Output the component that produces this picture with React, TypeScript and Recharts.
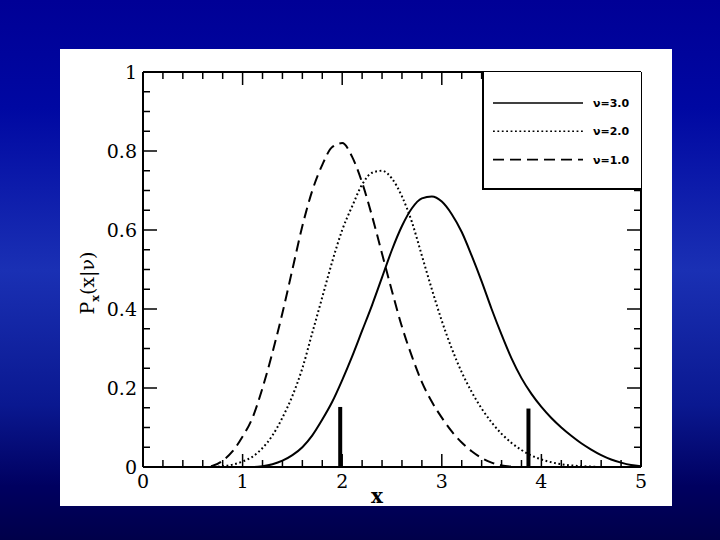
import React from 'react';
import { LineChart, Line, XAxis, YAxis, Legend, ReferenceLine } from 'recharts';

// sample positions along x
const xValues = [
  0, 0.1, 0.2, 0.3, 0.4, 0.5, 0.6, 0.7, 0.8, 0.9,
  1, 1.1, 1.2, 1.3, 1.4, 1.5, 1.6, 1.7, 1.8, 1.9,
  2, 2.1, 2.2, 2.3, 2.4, 2.5, 2.6, 2.7, 2.8, 2.9,
  3, 3.1, 3.2, 3.3, 3.4, 3.5, 3.6, 3.7, 3.8, 3.9,
  4, 4.1, 4.2, 4.3, 4.4, 4.5, 4.6, 4.7, 4.8, 4.9, 5,
];

// nu = 3.0 (solid)
const nu3 = [
  0, 0, 0, 0, 0, 0, 0, 0, 0, 0,
  0, 0, 0.002, 0.007, 0.016, 0.03, 0.05, 0.08, 0.12, 0.165,
  0.22, 0.28, 0.345, 0.41, 0.48, 0.55, 0.61, 0.655, 0.68, 0.685,
  0.672, 0.64, 0.595, 0.535, 0.47, 0.4, 0.335, 0.275, 0.225, 0.185,
  0.152, 0.124, 0.1, 0.079, 0.06, 0.044, 0.03, 0.019, 0.011, 0.005, 0.002,
];

// nu = 2.0 (dotted)
const nu2 = [
  0, 0, 0, 0, 0, 0, 0, 0, 0.002, 0.006,
  0.014, 0.026, 0.048, 0.08, 0.125, 0.18, 0.25, 0.34, 0.43, 0.52,
  0.6, 0.66, 0.715, 0.745, 0.75, 0.73, 0.685, 0.62, 0.535, 0.45,
  0.37, 0.3, 0.24, 0.19, 0.148, 0.113, 0.084, 0.061, 0.043, 0.029,
  0.019, 0.012, 0.007, 0.004, 0.002, 0.001, 0, 0, 0, 0, 0,
];

// nu = 1.0 (dashed)
const nu1 = [
  0, 0, 0, 0, 0, 0, 0, 0.003, 0.016, 0.04,
  0.077, 0.125, 0.2, 0.29, 0.39, 0.5, 0.61, 0.7, 0.765, 0.81,
  0.82, 0.785, 0.72, 0.635, 0.54, 0.445, 0.355, 0.28, 0.215, 0.165,
  0.125, 0.09, 0.062, 0.04, 0.023, 0.011, 0.004, 0.001, 0, 0,
  0, 0, 0, 0, 0, 0, 0, 0, 0, 0, 0,
];

const seriesNames = ['ν=3.0', 'ν=2.0', 'ν=1.0'];

// the two thick vertical markers
const markerX = [1.98, 3.87];
const markerTop = [0.152, 0.148];

const xTicks = [
  0, 0.2, 0.4, 0.6, 0.8, 1, 1.2, 1.4, 1.6, 1.8, 2, 2.2, 2.4,
  2.6, 2.8, 3, 3.2, 3.4, 3.6, 3.8, 4, 4.2, 4.4, 4.6, 4.8, 5,
];
const yTicks = [
  0, 0.05, 0.1, 0.15, 0.2, 0.25, 0.3, 0.35, 0.4, 0.45, 0.5,
  0.55, 0.6, 0.65, 0.7, 0.75, 0.8, 0.85, 0.9, 0.95, 1,
];
const yTickLabels = ['0', '0.2', '0.4', '0.6', '0.8', '1'];

const data = xValues.map((x, i) => ({ x, nu3: nu3[i], nu2: nu2[i], nu1: nu1[i] }));

const dashes = [undefined, '1.8 2.6', '11 6'];
const tickFont = 'DejaVu Serif, serif';

const isMajorX = (v: number) => Math.abs(v - Math.round(v)) < 1e-6;
const isMajorY = (v: number) => Math.abs(v * 5 - Math.round(v * 5)) < 1e-6;

const BottomTick = (props: any) => {
  const { x, y, payload } = props;
  const major = isMajorX(payload.value);
  return (
    <g>
      <line x1={x} x2={x} y1={y} y2={y - (major ? 13 : 7)} stroke="#000" strokeWidth={1.5} />
      {major && (
        <text x={x} y={y + 21} textAnchor="middle" fontFamily={tickFont} fontSize={19} fill="#000">
          {payload.value}
        </text>
      )}
    </g>
  );
};

const TopTick = (props: any) => {
  const { x, y, payload } = props;
  const major = isMajorX(payload.value);
  return <line x1={x} x2={x} y1={y} y2={y + (major ? 13 : 7)} stroke="#000" strokeWidth={1.5} />;
};

const LeftTick = (props: any) => {
  const { x, y, payload } = props;
  const major = isMajorY(payload.value);
  return (
    <g>
      <line x1={x} x2={x + (major ? 14 : 7)} y1={y} y2={y} stroke="#000" strokeWidth={1.5} />
      {major && (
        <text x={x - 6} y={y} dy="0.36em" textAnchor="end" fontFamily={tickFont} fontSize={19} fill="#000">
          {yTickLabels[Math.round(payload.value * 5)]}
        </text>
      )}
    </g>
  );
};

const RightTick = (props: any) => {
  const { x, y, payload } = props;
  const major = isMajorY(payload.value);
  return <line x1={x} x2={x - (major ? 14 : 7)} y1={y} y2={y} stroke="#000" strokeWidth={1.5} />;
};

const YTitle = () => (
  <text
    x={94}
    y={283}
    transform="rotate(-90 94 283)"
    textAnchor="middle"
    fontFamily={tickFont}
    fontSize={19}
    fill="#000"
  >
    P
    <tspan dy={5} fontSize={11} fontWeight="bold">x</tspan>
    <tspan dy={-5}>(x|ν)</tspan>
  </text>
);

const XTitle = () => (
  <text x={377} y={503} textAnchor="middle" fontFamily={tickFont} fontWeight="bold" fontSize={20} fill="#000">
    x
  </text>
);

const LegendBox = () => (
  <div
    style={{
      width: 159,
      height: 118,
      boxSizing: 'border-box',
      borderLeft: '2px solid #000',
      borderBottom: '2px solid #000',
      background: '#fff',
    }}
  >
    <svg width={157} height={116}>
      {seriesNames.map((name, i) => (
        <g key={name}>
          <line
            x1={9}
            x2={99}
            y1={31 + i * 28.3}
            y2={31 + i * 28.3}
            stroke="#000"
            strokeWidth={1.6}
            strokeDasharray={dashes[i]}
          />
          <text
            x={109}
            y={31 + i * 28.3}
            dy="0.36em"
            fontFamily="DejaVu Sans, sans-serif"
            fontWeight="bold"
            fontSize={11}
            fill="#000"
          >
            {name}
          </text>
        </g>
      ))}
    </svg>
  </div>
);

export default function App() {
  return (
    <div
      style={{
        position: 'absolute',
        left: 0,
        top: 0,
        width: 720,
        height: 540,
        background:
          'linear-gradient(180deg, #000096 0%, #0008a2 20%, #1a30b4 50%, #0a1890 75%, #000060 90%, #00004a 100%)',
      }}
    >
      <div style={{ position: 'absolute', left: 60, top: 49, width: 612, height: 457, background: '#fff' }} />
      <div style={{ position: 'absolute', left: 0, top: 0 }}>
        <LineChart width={720} height={540} data={data} margin={{ top: 71, right: 78, left: 83, bottom: 33 }}>
          <XAxis
            xAxisId="b"
            dataKey="x"
            type="number"
            domain={[0, 5]}
            ticks={xTicks}
            interval={0}
            height={40}
            tickSize={0}
            tickMargin={0}
            tickLine={false}
            tick={<BottomTick />}
            axisLine={{ stroke: '#000', strokeWidth: 2 }}
            allowDataOverflow
            label={<XTitle />}
          />
          <XAxis
            xAxisId="t"
            orientation="top"
            dataKey="x"
            type="number"
            domain={[0, 5]}
            ticks={xTicks}
            interval={0}
            height={1}
            tickSize={0}
            tickMargin={0}
            tickLine={false}
            tick={<TopTick />}
            axisLine={{ stroke: '#000', strokeWidth: 2 }}
            allowDataOverflow
          />
          <YAxis
            yAxisId="l"
            type="number"
            domain={[0, 1]}
            ticks={yTicks}
            interval={0}
            width={60}
            tickSize={0}
            tickMargin={0}
            tickLine={false}
            tick={<LeftTick />}
            axisLine={{ stroke: '#000', strokeWidth: 2 }}
            allowDataOverflow
            label={<YTitle />}
          />
          <YAxis
            yAxisId="r"
            orientation="right"
            type="number"
            domain={[0, 1]}
            ticks={yTicks}
            interval={0}
            width={1}
            tickSize={0}
            tickMargin={0}
            tickLine={false}
            tick={<RightTick />}
            axisLine={{ stroke: '#000', strokeWidth: 2 }}
            allowDataOverflow
          />
          <Legend
            layout="horizontal"
            verticalAlign="middle"
            align="center"
            content={<LegendBox />}
            wrapperStyle={{ left: 482, top: 72, width: 159, height: 118 }}
          />
          <Line
            xAxisId="b"
            yAxisId="l"
            type="monotone"
            dataKey="nu3"
            name={seriesNames[0]}
            stroke="#000"
            strokeWidth={2}
            dot={false}
            isAnimationActive={false}
          />
          <Line
            xAxisId="b"
            yAxisId="l"
            type="monotone"
            dataKey="nu2"
            name={seriesNames[1]}
            stroke="#000"
            strokeWidth={2}
            strokeDasharray={dashes[1]}
            dot={false}
            isAnimationActive={false}
          />
          <Line
            xAxisId="b"
            yAxisId="l"
            type="monotone"
            dataKey="nu1"
            name={seriesNames[2]}
            stroke="#000"
            strokeWidth={2}
            strokeDasharray={dashes[2]}
            dot={false}
            isAnimationActive={false}
          />
          {markerX.map((mx, i) => (
            <ReferenceLine
              key={mx}
              xAxisId="b"
              yAxisId="l"
              segment={[
                { x: mx, y: 0 },
                { x: mx, y: markerTop[i] },
              ]}
              stroke="#000"
              strokeWidth={4}
            />
          ))}
        </LineChart>
      </div>
    </div>
  );
}
